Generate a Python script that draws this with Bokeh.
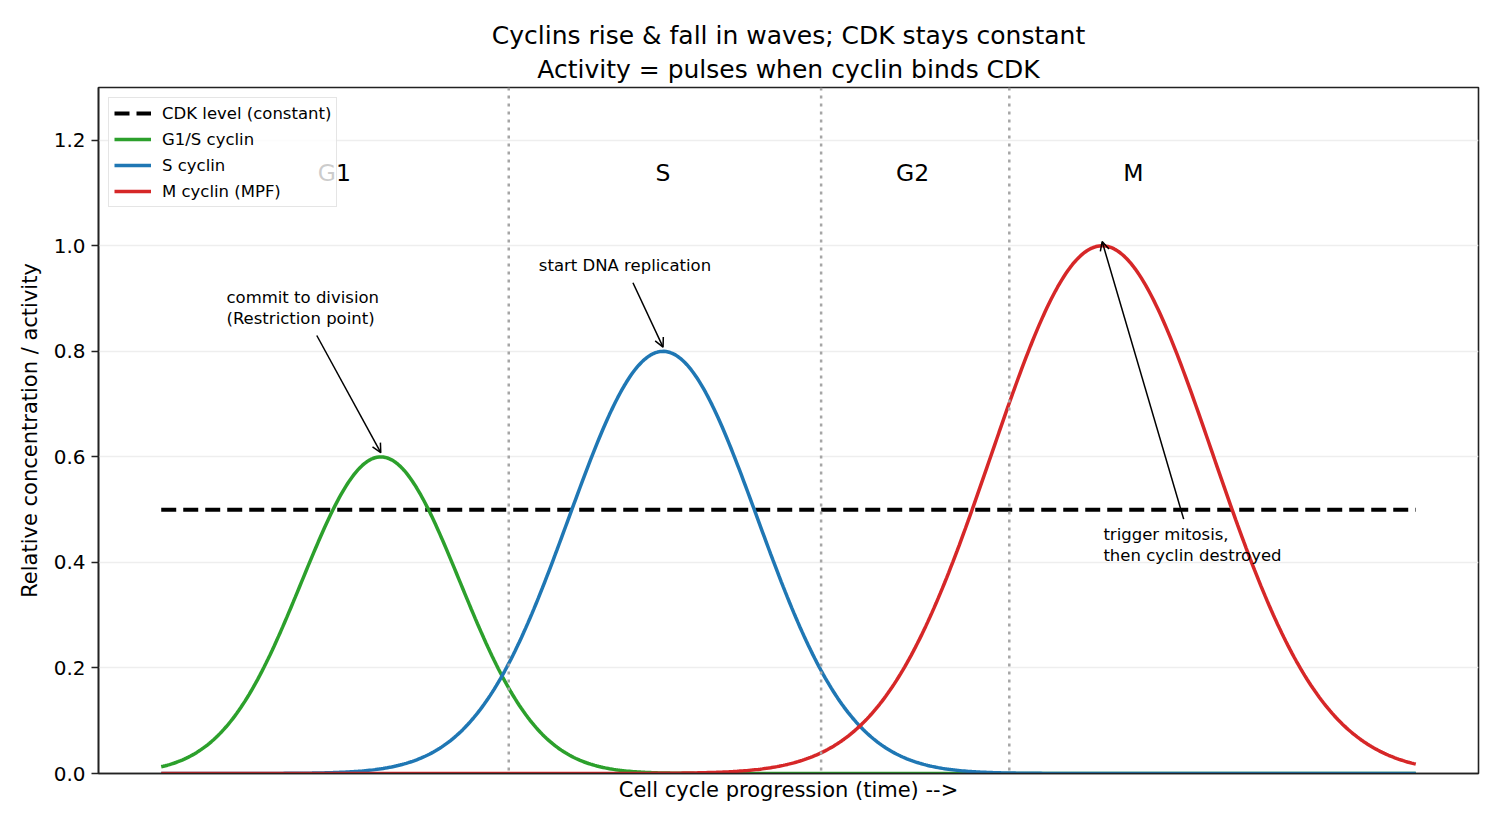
import numpy as np
from bokeh.plotting import figure
from bokeh.models import (Range1d, FixedTicker, Legend, LegendItem, Title, Span,
                          Arrow, OpenHead, PrintfTickFormatter)
from bokeh.core.properties import value
from bokeh.embed import file_html
from bokeh.resources import INLINE

FONT = "DejaVu Sans"

# Cell-cycle time axis (arbitrary units)
t_start, t_end = 0.0, 10.0

# Cyclin waves: peak time, peak height, width
cyclin_names = ["G1/S cyclin", "S cyclin", "M cyclin (MPF)"]
cyclin_peaks = [1.75, 4.0, 7.5]
cyclin_heights = [0.6, 0.8, 1.0]
cyclin_widths = [0.63, 0.75, 0.88]
cyclin_colors = ["#2ca02c", "#1f77b4", "#d62728"]

cdk_level = 0.5

# Phase boundaries and phase labels
phase_boundaries = [2.77, 5.26, 6.76]
phase_names = ["G1", "S", "G2", "M"]
phase_label_x = [1.38, 4.0, 5.99, 7.75]
phase_label_y = 1.138

# Annotations: text, text anchor, arrow tail; arrow points at each cyclin's peak
note_texts = ["commit to division\n(Restriction point)",
              "start DNA replication",
              "trigger mitosis,\nthen cyclin destroyed"]
note_x = [0.52, 3.01, 7.51]
note_y = [0.92, 0.98, 0.47]
note_tail_x = [1.24, 3.76, 8.15]
note_tail_y = [0.83, 0.93, 0.482]

t = np.linspace(t_start, t_end, 600)

p = figure(width=1500, height=825, output_backend="svg", toolbar_location=None,
           x_range=Range1d(-0.5, 10.5), y_range=Range1d(0, 1.3),
           min_border_left=98, min_border_right=22, min_border_top=87,
           min_border_bottom=52)
p.title = None
p.background_fill_color = "white"
p.border_fill_color = "white"
p.outline_line_color = "#222222"
p.outline_line_width = 1.6

# Title (two lines)
p.add_layout(Title(text="Activity = pulses when cyclin binds CDK", align="center",
                   text_font=FONT, text_font_size="25px", text_font_style="normal",
                   text_color="black", standoff=7), "above")
p.add_layout(Title(text="Cyclins rise & fall in waves; CDK stays constant", align="center",
                   text_font=FONT, text_font_size="25px", text_font_style="normal",
                   text_color="black", standoff=0), "above")

# Axes
p.xaxis.ticker = FixedTicker(ticks=[])
p.xaxis.axis_label = "Cell cycle progression (time) -->"
p.yaxis.axis_label = "Relative concentration / activity"
p.yaxis.ticker = FixedTicker(ticks=[0.0, 0.2, 0.4, 0.6, 0.8, 1.0, 1.2])
p.yaxis.formatter = PrintfTickFormatter(format="%.1f")
for ax in (p.xaxis, p.yaxis):
    ax.axis_label_text_font = FONT
    ax.axis_label_text_font_size = "21px"
    ax.axis_label_text_font_style = "normal"
    ax.axis_label_text_color = "black"
    ax.major_label_text_font = FONT
    ax.major_label_text_font_size = "20px"
    ax.major_label_text_color = "black"
    ax.axis_line_color = "#222222"
    ax.axis_line_width = 1.6
    ax.major_tick_line_color = "#222222"
    ax.major_tick_line_width = 1.6
    ax.major_tick_out = 7
    ax.major_tick_in = 0
    ax.minor_tick_line_color = None
p.xaxis.axis_label_standoff = 4
p.yaxis.axis_label_standoff = 9
p.yaxis.major_label_standoff = 6

p.xgrid.grid_line_color = None
p.ygrid.grid_line_color = "#eeeeee"
p.ygrid.grid_line_width = 1.5

# Phase boundaries
for xb in phase_boundaries:
    p.add_layout(Span(location=xb, dimension="height", line_color="#a6a6a6",
                      line_width=2.5, line_dash="3 5"))

# Phase labels
p.text(x=phase_label_x, y=[phase_label_y] * len(phase_names), text=phase_names,
       text_font=value(FONT), text_font_size="23.5px", text_color="black",
       text_align="center", text_baseline="middle")

# CDK level and cyclin curves
items = []
cdk_r = p.line([t_start, t_end], [cdk_level, cdk_level], line_color="black",
               line_width=4, line_dash="15 7")
items.append(LegendItem(label="CDK level (constant)", renderers=[cdk_r]))
for name, mu, h, s, c in zip(cyclin_names, cyclin_peaks, cyclin_heights,
                             cyclin_widths, cyclin_colors):
    y = h * np.exp(-((t - mu) ** 2) / (2 * s ** 2))
    r = p.line(t, y, line_color=c, line_width=3.5)
    items.append(LegendItem(label=name, renderers=[r]))

# Annotations with arrows to the peaks
for txt, tx, ty, ax_, ay_, mu, h in zip(note_texts, note_x, note_y, note_tail_x,
                                         note_tail_y, cyclin_peaks, cyclin_heights):
    p.text(x=[tx], y=[ty], text=[txt], text_font=value(FONT),
           text_font_size="16.5px", text_color="black", text_align="left",
           text_baseline="top", text_line_height=1.1)
    p.add_layout(Arrow(end=OpenHead(size=9, line_width=1.5, line_color="black"),
                       x_start=ax_, y_start=ay_, x_end=mu, y_end=h + 0.008,
                       line_color="black", line_width=1.5))

legend = Legend(items=items, location="top_left", margin=10, padding=5,
                spacing=6, label_text_font=FONT, label_text_font_size="16.5px",
                label_text_color="black", glyph_width=37, glyph_height=20,
                label_height=20, label_standoff=11,
                border_line_color="#cccccc", border_line_width=1.2,
                background_fill_color="white", background_fill_alpha=0.8)
p.add_layout(legend)

open("out.html", "w").write(file_html(p, INLINE))
